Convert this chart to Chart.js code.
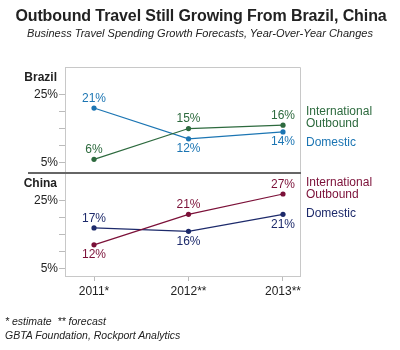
<!DOCTYPE html>
<html>
<head>
<meta charset="utf-8">
<script src="https://cdn.jsdelivr.net/npm/chart.js@4.4.1/dist/chart.umd.min.js"></script>
<style>
  html, body { margin:0; padding:0; background:#fff; }
  #wrap { position:relative; width:400px; height:350px; overflow:hidden; font-family:"Liberation Sans", Arial, sans-serif; color:#222; }
  canvas { position:absolute; left:0; top:0; }
  .t { position:absolute; white-space:nowrap; transform:translateY(-50%); }
</style>
</head>
<body>
<div id="wrap">
  <canvas id="c1" width="400" height="350"></canvas>
  <canvas id="c2" width="400" height="350"></canvas>
  <div class="t" style="left:0;width:402px;text-align:center;top:16px;font-size:16px;font-weight:bold;letter-spacing:-0.1px;color:#222;">Outbound Travel Still Growing From Brazil, China</div>
  <div class="t" style="left:0;width:400px;text-align:center;top:33px;font-size:11px;font-style:italic;color:#222;">Business Travel Spending Growth Forecasts, Year-Over-Year Changes</div>
  <div class="t" style="right:343px;top:77px;font-size:12px;font-weight:bold;color:#222;">Brazil</div>
  <div class="t" style="right:343px;top:183px;font-size:12px;font-weight:bold;color:#222;">China</div>
  <div class="t" style="left:306px;top:117px;font-size:12px;line-height:11.5px;color:#2d6a3e;">International<br>Outbound</div>
  <div class="t" style="left:306px;top:142px;font-size:12px;color:#1b75b3;">Domestic</div>
  <div class="t" style="left:306px;top:188px;font-size:12px;line-height:11.5px;color:#7b1038;">International<br>Outbound</div>
  <div class="t" style="left:306px;top:213px;font-size:12px;color:#1d2a6b;">Domestic</div>
  <div class="t" style="left:5px;top:321px;font-size:10.5px;font-style:italic;color:#222;">* estimate&nbsp;&nbsp;** forecast</div>
  <div class="t" style="left:5px;top:335px;font-size:10.5px;font-style:italic;color:#222;">GBTA Foundation, Rockport Analytics</div>
</div>
<script>
const years = [2011, 2012, 2013];
const yearLabels = ['2011*', '2012**', '2013**'];
const brazilIntl = [6, 15, 16];
const brazilDom = [21, 12, 14];
const chinaIntl = [12, 21, 27];
const chinaDom = [17, 16, 21];
const yTicks = [5, 10, 15, 20, 25];
const yLabeledTicks = [5, 25];

const FONT = '"Liberation Sans", Arial, sans-serif';
const pts = arr => years.map((x, i) => ({ x: x, y: arr[i] }));

const labelPlugin = {
  id: 'valueLabels',
  afterDatasetsDraw(chart) {
    const ctx = chart.ctx;
    ctx.save();
    ctx.font = '12px ' + FONT;
    ctx.textAlign = 'center';
    ctx.textBaseline = 'middle';
    chart.data.datasets.forEach((ds, di) => {
      const meta = chart.getDatasetMeta(di);
      meta.data.forEach((el, i) => {
        const side = ds.labelSide[i];
        ctx.fillStyle = ds.borderColor;
        ctx.fillText(ds.data[i].y + '%', el.x, el.y + (side === 'above' ? -9.5 : 10));
      });
    });
    ctx.restore();
  }
};

const framePlugin = {
  id: 'frame',
  beforeDatasetsDraw(chart, args, opts) {
    const a = chart.chartArea, ctx = chart.ctx;
    ctx.save();
    ctx.strokeStyle = '#c8c8c8';
    ctx.lineWidth = 1;
    ctx.beginPath();
    ctx.moveTo(a.left, a.top + 0.5);
    if (opts.top) { ctx.lineTo(a.right + 0.5, a.top + 0.5); } else { ctx.moveTo(a.right + 0.5, a.top); }
    ctx.lineTo(a.right + 0.5, a.bottom);
    ctx.stroke();
    if (opts.divider) {
      ctx.strokeStyle = '#666';
      ctx.lineWidth = 2;
      ctx.beginPath();
      ctx.moveTo(28, a.top);
      ctx.lineTo(a.right + 1, a.top);
      ctx.stroke();
    }
    ctx.restore();
  }
};

function makeChart(id, intl, dom, cIntl, cDom, sides, yMin, yMax, pad, showX, frameOpts) {
  return new Chart(document.getElementById(id), {
    type: 'line',
    data: {
      datasets: [
        { data: pts(intl), borderColor: cIntl, backgroundColor: cIntl, borderWidth: 1.2,
          pointRadius: 2.6, pointBorderWidth: 0, labelSide: sides[0] },
        { data: pts(dom), borderColor: cDom, backgroundColor: cDom, borderWidth: 1.2,
          pointRadius: 2.6, pointBorderWidth: 0, labelSide: sides[1] }
      ]
    },
    options: {
      responsive: false,
      devicePixelRatio: 1,
      animation: false,
      events: [],
      layout: { padding: pad },
      plugins: { legend: { display: false }, tooltip: { enabled: false }, frame: frameOpts },
      scales: {
        x: {
          type: 'linear', min: 2010.693, max: 2013.18,
          display: showX,
          afterBuildTicks: s => { s.ticks = years.map(v => ({ value: v })); },
          afterFit: s => { s.height = showX ? 30 : 0; },
          ticks: { callback: v => { const i = years.indexOf(v); return i >= 0 ? yearLabels[i] : ''; },
                   font: { size: 12, family: FONT }, color: '#222', padding: 3, maxRotation: 0, autoSkip: false },
          grid: { drawOnChartArea: false, drawTicks: true, tickLength: 5, color: '#bbb' },
          border: { display: true, color: '#c8c8c8' }
        },
        y: {
          min: yMin, max: yMax,
          afterBuildTicks: s => { s.ticks = yTicks.map(v => ({ value: v })); },
          afterFit: s => { s.width = 65; },
          ticks: { callback: v => yLabeledTicks.includes(v) ? v + '%' : '',
                   font: { size: 12, family: FONT }, color: '#222', padding: 1, autoSkip: false },
          grid: { drawOnChartArea: false, drawTicks: true, tickLength: 6, color: '#bbb' },
          border: { display: true, color: '#c8c8c8' }
        }
      }
    },
    plugins: [framePlugin, labelPlugin]
  });
}

makeChart('c1', brazilIntl, brazilDom, '#2d6a3e', '#1b75b3',
  [['above', 'above', 'above'], ['above', 'below', 'below']],
  2, 33, { left: 0, right: 100, top: 67, bottom: 177 }, false, { top: true, divider: false });

makeChart('c2', chinaIntl, chinaDom, '#7b1038', '#1d2a6b',
  [['below', 'above', 'above'], ['above', 'below', 'below']],
  2.8, 33.2, { left: 0, right: 100, top: 173, bottom: 44 }, true, { top: false, divider: true });
</script>
</body>
</html>
